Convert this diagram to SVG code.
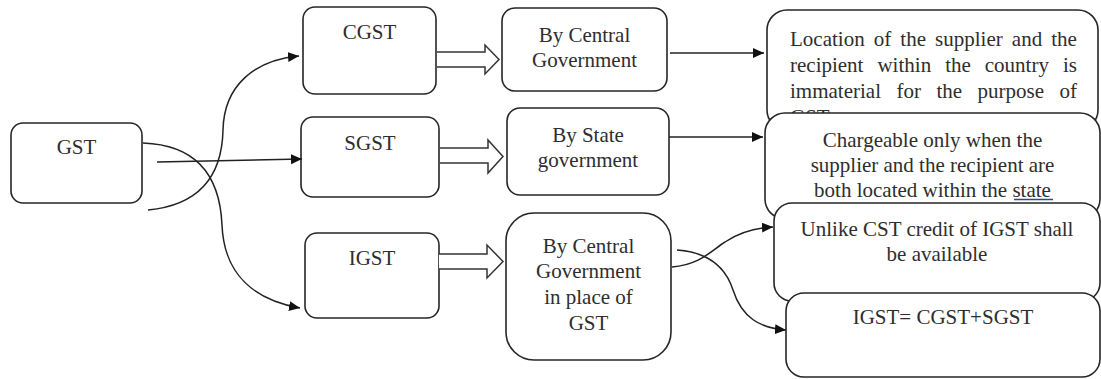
<svg xmlns="http://www.w3.org/2000/svg" width="1101" height="379" viewBox="0 0 1101 379">
<style>
.box{fill:#fff;stroke:#262626;stroke-width:1.6}
.con{fill:none;stroke:#222;stroke-width:1.5}
.blk{fill:#fff;stroke:#333;stroke-width:1.5;stroke-linejoin:miter}
</style>
<defs>
<marker id="ah" markerUnits="userSpaceOnUse" markerWidth="12" markerHeight="11" refX="11" refY="5" orient="auto">
<path d="M0,0 L11,5 L0,10 z" fill="#111"/>
</marker>
</defs>
<rect width="1101" height="379" fill="#fff"/>

<g font-family="Liberation Serif, Times New Roman, serif" font-size="21" fill="#2e2e2e">
<g id="gst"><rect class="box" x="11" y="123" width="131" height="80" rx="12"/><text text-anchor="middle" x="76.5" y="154">GST</text></g>
<g id="cgst"><rect class="box" x="303" y="7" width="133" height="87" rx="12"/><text text-anchor="middle" x="369.5" y="39">CGST</text></g>
<g id="sgst"><rect class="box" x="301" y="117" width="138" height="80" rx="12"/><text text-anchor="middle" x="370" y="150">SGST</text></g>
<g id="igst"><rect class="box" x="305" y="233" width="134" height="85" rx="12"/><text text-anchor="middle" x="372" y="265">IGST</text></g>

<g id="central"><rect class="box" x="502" y="8" width="165" height="83" rx="13"/><text text-anchor="middle" x="584.5" y="42">By Central</text><text text-anchor="middle" x="584.5" y="67">Government</text></g>
<g id="state"><rect class="box" x="507" y="108" width="162" height="87" rx="13"/><text text-anchor="middle" x="588" y="142">By State</text><text text-anchor="middle" x="588" y="167">government</text></g>
<g id="central-igst"><rect class="box" x="506" y="213" width="165" height="147" rx="28"/><text text-anchor="middle" x="588.5" y="253">By Central</text><text text-anchor="middle" x="588.5" y="278">Government</text><text text-anchor="middle" x="588.5" y="304">in place of</text><text text-anchor="middle" x="588.5" y="330">GST</text></g>

<g id="location"><rect class="box" x="767" y="10" width="331" height="120" rx="20"/>
<text x="790" y="46" word-spacing="3.85">Location of the supplier and the</text>
<text x="790" y="72" word-spacing="8.75">recipient within the country is</text>
<text x="790" y="98" word-spacing="10.25">immaterial for the purpose of</text>
<text x="790" y="124">GST</text></g>
<g id="chargeable"><rect class="box" x="765" y="113" width="335" height="106" rx="20"/>
<text text-anchor="middle" x="932.5" y="147">Chargeable only when the</text>
<text text-anchor="middle" x="932.5" y="172">supplier and the recipient are</text>
<text text-anchor="middle" x="932.5" y="197">both located within the state</text>
<line x1="1014" y1="199.5" x2="1053" y2="199.5" stroke="#2b4a8b" stroke-width="1.3"/></g>
<g id="unlike"><rect class="box" x="774" y="203" width="326" height="98" rx="18"/>
<text text-anchor="middle" x="937" y="236">Unlike CST credit of IGST shall</text>
<text text-anchor="middle" x="937" y="261">be available</text></g>
<g id="igst-eq"><rect class="box" x="786" y="293" width="314" height="84" rx="18"/>
<text text-anchor="middle" x="943" y="324">IGST= CGST+SGST</text></g>
</g>

<g id="connectors">
<path class="con" d="M148,210 C200,205 222,175 223,130 C224,85 255,60 299,56" marker-end="url(#ah)"/>
<path class="con" d="M157,162 L302,159" marker-end="url(#ah)"/>
<path class="con" d="M143,143 C200,145 220,180 222,225 C224,275 255,300 300,308" marker-end="url(#ah)"/>
<path class="blk" d="M437,52 H485 V45 L499,59.5 L485,74 V67 H437"/>
<path class="blk" d="M440,148 H488 V140 L503,156.5 L488,173 V163 H440"/>
<path class="blk" d="M439,254 H487 V245 L503,261.5 L487,278 V269 H439"/>
<path class="con" d="M670,53 L764,53" marker-end="url(#ah)"/>
<path class="con" d="M669,137 L763,137" marker-end="url(#ah)"/>
<path class="con" d="M672,267 C700,265 712,250 725,242 C740,232 755,228 773,227" marker-end="url(#ah)"/>
<path class="con" d="M677,250 C705,252 725,265 733,290 C742,318 760,328 786,330" marker-end="url(#ah)"/>
</g>
</svg>
